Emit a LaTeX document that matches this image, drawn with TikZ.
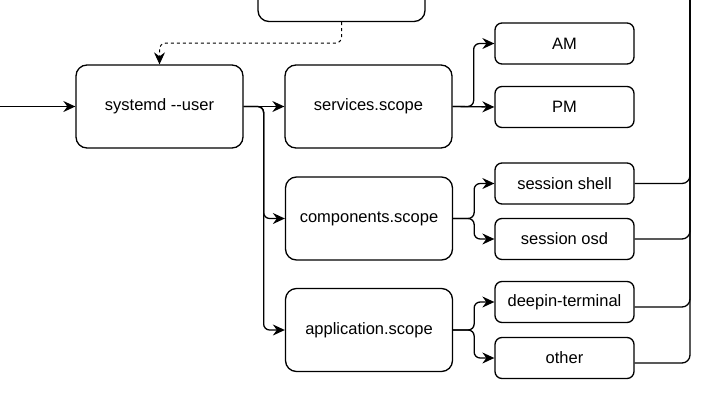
\documentclass[tikz,border=0pt]{standalone}
\usepackage{fontspec}
\setmainfont{Liberation Sans}
\usetikzlibrary{arrows.meta}
\begin{document}
\begin{tikzpicture}[x=1pt, y=-1pt, line width=1.3pt,
    every node/.style={font=\fontsize{16.5}{20}\selectfont},
    bigbox/.style={draw, rounded corners=11pt, minimum width=167pt, minimum height=83pt, inner sep=0pt},
    smallbox/.style={draw, rounded corners=7pt, minimum width=139pt, minimum height=41pt, inner sep=0pt},
    link/.style={-{Stealth[length=12pt, width=11pt, inset=4pt]}, rounded corners=6pt},
    uplink/.style={rounded corners=8pt}]
            \useasboundingbox (0, 0) rectangle (712, 402);

            \node[bigbox] (parent) at (341.5, -20) {};
            \node[bigbox] (systemd) at (159.5, 106.5) {systemd -{}-user};
            \node[bigbox] (services) at (368.5, 106.5) {services.scope};
            \node[bigbox] (components) at (369, 218.5) {components.scope};
            \node[bigbox] (application) at (369, 330) {application.scope};

            \node[smallbox] (am) at (564.5, 43.5) {AM};
            \node[smallbox] (pm) at (564.5, 107) {PM};
            \node[smallbox] (shell) at (564.5, 183.5) {session shell};
            \node[smallbox] (osd) at (564.5, 239) {session osd};
            \node[smallbox] (terminal) at (564.5, 302) {deepin-terminal};
            \node[smallbox] (other) at (564.5, 358) {other};

            \coordinate (login) at (0, 106.5);
            \coordinate (up) at (690, -10);

            \draw[link] (login) -- (systemd);
            \draw[link, dash pattern=on 3pt off 3pt, line width=1pt] (parent.south) -- ++(0, 21) -| (systemd.north);

            \draw[link] (systemd.east) -- (services.west);
            \draw[link] (systemd.east) -- ++(20, 0) |- (components.west);
            \draw[link] (systemd.east) -- ++(20, 0) |- (application.west);

            \draw[link] (services.east) -- ++(21, 0) |- (am.west);
            \draw[link] (services.east) -- (pm.west);
            \draw[link] (components.east) -- ++(21, 0) |- (shell.west);
            \draw[link] (components.east) -- ++(21, 0) |- (osd.west);
            \draw[link] (application.east) -- ++(21, 0) |- (terminal.west);
            \draw[link] (application.east) -- ++(21, 0) |- (other.west);

            \draw[uplink] (shell.east) -| (up);
            \draw[uplink] (osd.east) -| (up);
            \draw[uplink] ([yshift=-5pt]terminal.east) -| (up);
            \draw[uplink] ([yshift=-5pt]other.east) -| (up);
        \end{tikzpicture}
\end{document}
